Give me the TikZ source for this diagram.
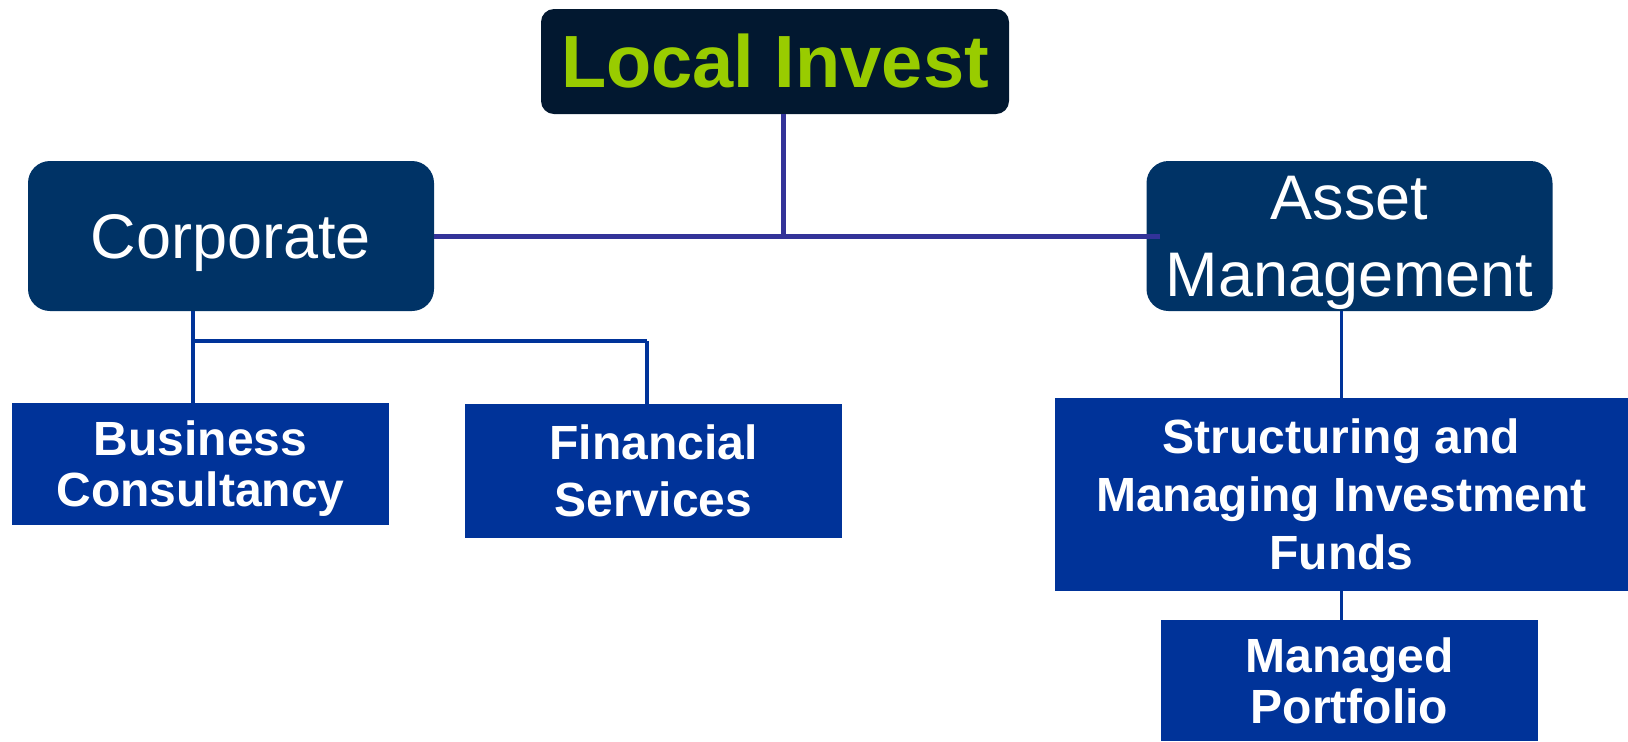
\documentclass[tikz,border=0pt]{standalone}
\usepackage{xcolor}
\usepackage{fontspec}
\setmainfont{Liberation Sans}
\usepackage{tikz}

\definecolor{headfill}{HTML}{021830}
\definecolor{headtext}{HTML}{99CC00}
\definecolor{unitfill}{HTML}{003366}
\definecolor{taskfill}{HTML}{003399}
\definecolor{topline}{HTML}{333399}
\definecolor{lowline}{HTML}{003399}

\tikzset{
    headbox/.style={fill=headfill, text=headtext, rounded corners=6.5pt, inner sep=0pt,
        font=\bfseries\fontsize{37}{44}\selectfont},
    unitbox/.style={fill=unitfill, text=white, rounded corners=11pt, inner sep=0pt, align=center,
        text depth=0pt, minimum width=203pt, minimum height=75pt, font=\fontsize{31.5}{38.5}\selectfont},
    taskbox/.style={fill=taskfill, text=white, inner sep=0pt, align=center,
        font=\bfseries\fontsize{24}{25.5}\selectfont},
    topwire/.style={draw=topline, line width=2.5pt},
    lowwire/.style={draw=lowline, line width=1.6pt}
}

\begin{document}
\begin{tikzpicture}[x=0.5pt,y=-0.5pt]
                \useasboundingbox (0,0) rectangle (1628,741);
                \node[headbox, minimum width=234pt, minimum height=52.5pt] (invest) at (775,61.5) {Local Invest};
                \node[unitbox] (corporate) at (231,236) {Corporate};
                \node[unitbox] (asset) at (1349.5,236) {Asset\\Management};
                \node[taskbox, minimum width=188.5pt, minimum height=61pt, text depth=0pt] (business) at (200.5,464) {Business\\Consultancy};
                \node[taskbox, minimum width=188.5pt, minimum height=67pt,
                    font=\bfseries\fontsize{24}{28.75}\selectfont] (financial) at (653.5,471) {Financial\\Services};
                \node[taskbox, minimum width=286.5pt, minimum height=96.5pt,
                    font=\bfseries\fontsize{24}{29}\selectfont] (funds) at (1341.5,494.5) {Structuring and\\Managing Investment\\Funds};
                \node[taskbox, minimum width=188.5pt, minimum height=60.5pt] (portfolio) at (1349.5,680.5) {Managed\\Portfolio};
                \coordinate (tj) at (783,236);
                \coordinate (cj) at (193,341);
                \coordinate (fj) at (647,341);
                \draw[topwire] (invest.south -| tj) -- (tj);
                \draw[topwire] (corporate.east) -- ([xshift=7pt]asset.west);
                \draw[lowwire] (corporate.south -| cj) -- (business.north -| cj);
                \draw[lowwire, line width=2pt] (cj) -- (fj);
                \draw[lowwire] (fj) -- (financial.north -| fj);
                \draw[lowwire] (funds.north |- asset.south) -- (funds.north);
                \draw[lowwire] (funds.south) -- (funds.south |- portfolio.north);
            \end{tikzpicture}
\end{document}
